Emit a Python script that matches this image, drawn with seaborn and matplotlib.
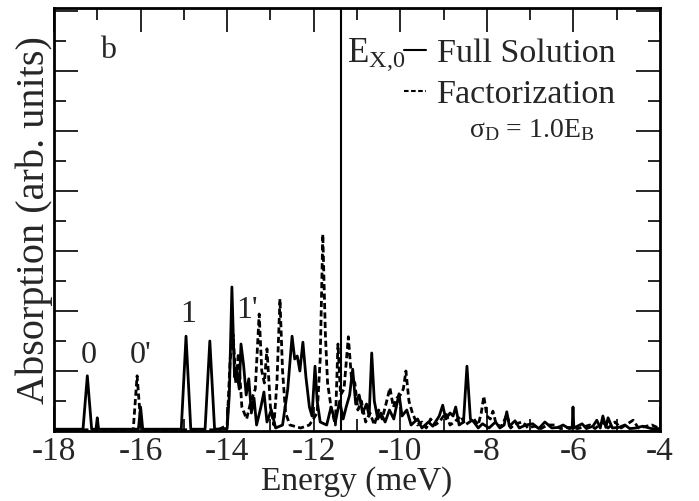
import matplotlib
matplotlib.use("Agg")
import matplotlib.pyplot as plt
from matplotlib.ticker import MultipleLocator
import seaborn as sns
import pandas as pd

# ---- data ----
full_energy = [-18.0, -17.5, -17.33, -17.23, -17.13, -17.03, -17.0, -16.97, -16.05, -16.0, -15.95,
               -15.06, -14.95, -14.84, -14.51, -14.4, -14.29, -14.0, -13.95, -13.89, -13.83, -13.78,
               -13.72, -13.68, -13.62, -13.56, -13.5, -13.44, -13.38, -13.32, -13.22, -13.15, -13.08,
               -12.98, -12.88, -12.72, -12.6, -12.5, -12.44, -12.38, -12.32, -12.25, -12.18, -12.1,
               -12.04, -11.97, -11.92, -11.85, -11.7, -11.6, -11.5, -11.4, -11.32, -11.25, -11.17,
               -11.1, -11.03, -10.95, -10.87, -10.78, -10.72, -10.66, -10.6, -10.52, -10.45, -10.35,
               -10.25, -10.15, -10.03, -9.96, -9.85, -9.75, -9.6, -9.5, -9.35, -9.25, -9.1, -9.02,
               -8.95, -8.85, -8.78, -8.72, -8.64, -8.54, -8.46, -8.38, -8.3, -8.2, -8.1, -7.95, -7.8,
               -7.7, -7.6, -7.54, -7.48, -7.35, -7.25, -7.1, -6.94, -6.8, -6.66, -6.5, -6.35, -6.24,
               -6.1, -6.03, -6.01, -5.99, -5.8, -5.7, -5.55, -5.46, -5.38, -5.32, -5.25, -5.2, -5.1,
               -4.95, -4.81, -4.7, -4.55, -4.4, -4.2, -4.0]
full_absorption = [0.03, 0.03, 0.03, 0.92, 0.03, 0.03, 0.22, 0.03, 0.03, 0.4, 0.03,
                   0.03, 1.58, 0.03, 0.03, 1.5, 0.03, 0.04, 0.6, 2.4, 0.9, 1.0,
                   0.7, 1.45, 1.1, 0.6, 0.87, 0.3, 0.55, 0.1, 0.4, 0.65, 0.15,
                   0.35, 0.05, 0.1, 0.7, 1.58, 1.2, 1.25, 1.0, 1.48, 0.9, 0.4,
                   0.25, 1.08, 0.5, 0.15, 0.1, 0.4, 0.15, 0.5, 0.2, 0.4, 0.6,
                   1.03, 0.45, 0.6, 0.3, 0.45, 0.25, 1.3, 0.5, 0.2, 0.3, 0.15,
                   0.35, 0.2, 0.62, 0.25, 0.35, 0.1, 0.2, 0.05, 0.15, 0.08, 0.25, 0.43,
                   0.2, 0.3, 0.25, 0.4, 0.1, 0.15, 1.08, 0.2, 0.15, 0.05, 0.12, 0.05, 0.15,
                   0.05, 0.1, 0.32, 0.08, 0.17, 0.05, 0.1, 0.12, 0.04, 0.15, 0.05, 0.06, 0.1,
                   0.04, 0.05, 0.4, 0.05, 0.12, 0.04, 0.08, 0.18, 0.05, 0.25, 0.06, 0.22, 0.05,
                   0.06, 0.1, 0.04, 0.05, 0.08, 0.04, 0.04]

fact_energy = [-18.0, -16.5, -16.17, -16.08, -16.02, -15.97, -14.2, -14.0, -13.93, -13.86, -13.8,
               -13.74, -13.66, -13.55, -13.45, -13.35, -13.26, -13.2, -13.14, -13.08, -13.0, -12.92,
               -12.85, -12.78, -12.72, -12.65, -12.55, -12.3, -12.1, -11.92, -11.85, -11.79, -11.73,
               -11.68, -11.6, -11.5, -11.44, -11.38, -11.3, -11.2, -11.13, -11.05, -10.98, -10.9,
               -10.8, -10.7, -10.6, -10.5, -10.42, -10.33, -10.24, -10.16, -10.08, -10.0, -9.93,
               -9.87, -9.8, -9.72, -9.6, -9.5, -9.4, -9.3, -9.2, -9.1, -8.95, -8.85, -8.75, -8.6,
               -8.5, -8.4, -8.3, -8.2, -8.13, -8.07, -8.0, -7.92, -7.86, -7.78, -7.65, -7.54, -7.45,
               -7.35, -7.17, -7.05, -6.9, -6.75, -6.6, -6.43, -6.3, -6.1, -5.9, -5.62, -5.5, -5.32,
               -5.2, -5.04, -4.9, -4.62, -4.5, -4.19, -4.0]
fact_absorption = [0.02, 0.02, 0.02, 0.92, 0.35, 0.02, 0.02, 0.1, 1.2, 1.6, 0.8,
                   1.3, 0.4, 0.2, 0.5, 0.7, 1.95, 1.0, 0.8, 1.37, 0.4, 0.1,
                   0.8, 2.2, 1.0, 0.3, 0.1, 0.05, 0.1, 0.3, 1.2, 3.28, 1.6,
                   0.8, 0.4, 0.1, 1.45, 0.6, 0.7, 1.57, 0.9, 0.8, 0.35, 0.5,
                   0.15, 0.3, 0.1, 0.35, 0.2, 0.45, 0.72, 0.4, 0.55, 0.6, 0.7,
                   1.0, 0.5, 0.3, 0.1, 0.15, 0.05, 0.2, 0.1, 0.15, 0.3, 0.1, 0.15, 0.25,
                   0.1, 0.15, 0.2, 0.1, 0.3, 0.58, 0.25, 0.2, 0.33, 0.1, 0.08, 0.28, 0.05,
                   0.12, 0.15, 0.05, 0.08, 0.04, 0.1, 0.1, 0.04, 0.06, 0.04, 0.1, 0.04, 0.15,
                   0.05, 0.15, 0.05, 0.18, 0.05, 0.1, 0.04]

exciton_energy = -11.37
x_ticks = [-18, -16, -14, -12, -10, -8, -6, -4]
x_tick_labels = ["-18", "-16", "-14", "-12", "-10", "-8", "-6", "-4"]
peak_labels = ["0", "0'", "1", "1'"]
peak_label_energy = [-17.2, -16.0, -14.9, -13.54]
peak_label_height = [1.28, 1.28, 1.95, 2.02]

# ---- style ----
sns.set_theme(style="ticks")
plt.rcParams["font.family"] = ["Liberation Serif", "DejaVu Serif"]
plt.rcParams["mathtext.fontset"] = "custom"
plt.rcParams["mathtext.rm"] = "Liberation Serif"
plt.rcParams["mathtext.it"] = "Liberation Serif"
plt.rcParams["axes.unicode_minus"] = False

fig = plt.figure(figsize=(6.99, 5.02), dpi=100)
ax = fig.add_axes([54 / 699, 70 / 502, 606 / 699, 423 / 502])

df_full = pd.DataFrame({"Energy": full_energy, "Absorption": full_absorption})
df_fact = pd.DataFrame({"Energy": fact_energy, "Absorption": fact_absorption})

sns.lineplot(data=df_full, x="Energy", y="Absorption", ax=ax, color="black",
             linewidth=2.0, estimator=None, label="Full Solution")
sns.lineplot(data=df_fact, x="Energy", y="Absorption", ax=ax, color="black",
             linewidth=2.0, estimator=None, label="Factorization")
full_line, fact_line = ax.lines[0], ax.lines[1]
fact_line.set_linestyle((0, (2.2, 1.2)))

ax.axvline(exciton_energy, color="black", linewidth=1.5)

ax.set_xlim(-18, -4)
ax.set_ylim(0, 7.05)
ax.set_xticks(x_ticks)
ax.set_xticklabels(x_tick_labels)
ax.xaxis.set_minor_locator(MultipleLocator(1))
ax.yaxis.set_major_locator(MultipleLocator(1))
ax.yaxis.set_minor_locator(MultipleLocator(0.5))
ax.tick_params(which="both", direction="in", top=True, right=True, labelleft=False)
ax.tick_params(which="major", length=17, width=1.4, labelsize=24, pad=3)
ax.tick_params(which="minor", length=8.5, width=1.4)
for sp in ax.spines.values():
    sp.set_linewidth(2.0)
    sp.set_color("black")

ax.set_xlabel("Energy (meV)", fontsize=24, labelpad=0)
ax.set_ylabel("Absorption (arb. units)", fontsize=29, labelpad=1)

ax.text(-16.75, 6.35, "b", fontsize=23, ha="center", va="center")
for lab, e, h in zip(peak_labels, peak_label_energy, peak_label_height):
    ax.text(e, h, lab, fontsize=23, ha="center", va="center")

ax.text(-11.23, 6.17, r"$\mathregular{E_{X{,}0}}$", fontsize=25, ha="left", va="baseline")
ax.text(-6.96, 5.03, r"$\mathregular{σ_D}$ = 1.0$\mathregular{E_B}$", fontsize=20,
        ha="center", va="center")

leg = ax.legend(handles=[full_line, fact_line], labels=["Full Solution", "Factorization"],
                loc="upper left", bbox_to_anchor=(0.578, 0.93), frameon=False, fontsize=24.5,
                handlelength=0.65, handletextpad=0.3, labelspacing=0.3, borderpad=0,
                borderaxespad=0)
for h in leg.legend_handles:
    h.set_linewidth(1.5)

fig.savefig("out.png", dpi=100)
